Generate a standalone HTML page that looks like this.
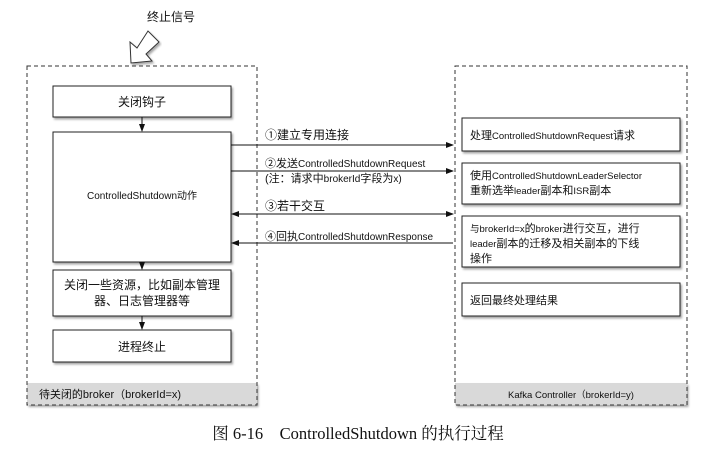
<!DOCTYPE html>
<html><head><meta charset="utf-8"><style>
body{margin:0;background:#fff;width:722px;height:444px;overflow:hidden;font-family:"Liberation Sans","Noto Sans CJK SC",sans-serif;}
svg text{font-family:"Liberation Sans","Noto Sans CJK SC",sans-serif;fill:#111;}
</style></head><body>
<svg width="722" height="444" viewBox="0 0 722 444" xmlns="http://www.w3.org/2000/svg">
<defs>
<marker id="ah" markerWidth="8" markerHeight="8" refX="7" refY="4" orient="auto" markerUnits="userSpaceOnUse"><path d="M0,1 L8,4 L0,7 Z" fill="#111"/></marker>
<marker id="ahs" markerWidth="8" markerHeight="8" refX="1" refY="4" orient="auto" markerUnits="userSpaceOnUse"><path d="M8,1 L0,4 L8,7 Z" fill="#111"/></marker>
<filter id="sh" x="-10%" y="-10%" width="120%" height="130%"><feDropShadow dx="1.5" dy="2" stdDeviation="1" flood-color="#000" flood-opacity="0.35"/></filter>
</defs>
<text x="171" y="21" font-size="12" text-anchor="middle">终止信号</text>
<polygon points="131,63 130,42 137,48 148,31 159,42 146,54 152,61" fill="#fff" stroke="#333" stroke-width="1" filter="url(#sh)"/>
<g filter="url(#sh)">
<rect x="27" y="383" width="230" height="22" fill="#d9d9d9"/>
<rect x="455" y="383" width="232" height="22" fill="#d9d9d9"/>
</g>
<rect x="27" y="66" width="230" height="339" fill="none" stroke="#333" stroke-dasharray="4,3"/>
<rect x="455" y="66" width="232" height="339" fill="none" stroke="#333" stroke-dasharray="4,3"/>
<text x="110" y="398" font-size="11" text-anchor="middle">待关闭的broker（brokerId=x)</text>
<text x="571" y="398" font-size="9.5" text-anchor="middle">Kafka Controller（brokerId=y)</text>
<g fill="#fff" stroke="#222" stroke-width="1" filter="url(#sh)">
<rect x="53" y="86" width="178" height="31"/>
<rect x="53" y="132" width="178" height="130"/>
<rect x="53" y="270" width="178" height="46"/>
<rect x="53" y="330" width="178" height="32"/>
<rect x="462" y="118" width="218" height="33"/>
<rect x="462" y="163" width="218" height="41"/>
<rect x="462" y="216" width="218" height="51"/>
<rect x="462" y="283" width="218" height="33"/>
</g>
<text x="142" y="106" font-size="12" text-anchor="middle">关闭钩子</text>
<text x="142" y="199" font-size="10" text-anchor="middle">ControlledShutdown动作</text>
<text x="142" y="289" font-size="12" text-anchor="middle">关闭一些资源，比如副本管理</text>
<text x="142" y="305" font-size="12" text-anchor="middle">器、日志管理器等</text>
<text x="142" y="351" font-size="12" text-anchor="middle">进程终止</text>
<g stroke="#111" stroke-width="1">
<line x1="142" y1="117" x2="142" y2="131" marker-end="url(#ah)"/>
<line x1="142" y1="262" x2="142" y2="269" marker-end="url(#ah)"/>
<line x1="142" y1="316" x2="142" y2="329" marker-end="url(#ah)"/>
<line x1="231" y1="145" x2="453" y2="145" marker-end="url(#ah)"/>
<line x1="231" y1="171" x2="453" y2="171" marker-end="url(#ah)"/>
<line x1="232" y1="214" x2="453" y2="214" marker-end="url(#ah)" marker-start="url(#ahs)"/>
<line x1="453" y1="243" x2="232" y2="243" marker-end="url(#ah)"/>
</g>
<text x="265" y="139" font-size="12">①建立专用连接</text>
<text x="265" y="167" font-size="11">②发送<tspan font-size="10">ControlledShutdownRequest</tspan></text>
<text x="265" y="182" font-size="11">(注：请求中<tspan font-size="10">brokerId</tspan>字段为<tspan font-size="10">x)</tspan></text>
<text x="265" y="210" font-size="12">③若干交互</text>
<text x="265" y="240" font-size="11">④回执<tspan font-size="10">ControlledShutdownResponse</tspan></text>
<text x="470" y="139" font-size="11">处理<tspan font-size="9.5">ControlledShutdownRequest</tspan>请求</text>
<text x="470" y="179" font-size="11">使用<tspan font-size="9.5">ControlledShutdownLeaderSelector</tspan></text>
<text x="470" y="194" font-size="11">重新选举<tspan font-size="9.5">leader</tspan>副本和<tspan font-size="9.5">ISR</tspan>副本</text>
<text x="470" y="232" font-size="11"><tspan font-size="9.5">与brokerId=x</tspan>的<tspan font-size="9.5">broker</tspan>进行交互，进行</text>
<text x="470" y="247" font-size="11"><tspan font-size="9.5">leader</tspan>副本的迁移及相关副本的下线</text>
<text x="470" y="262" font-size="11">操作</text>
<text x="470" y="304" font-size="11">返回最终处理结果</text>
<text x="358" y="439" font-size="16.5" text-anchor="middle" style="font-family:'Liberation Serif','Noto Serif CJK SC',serif">图 6-16　ControlledShutdown 的执行过程</text>
</svg>
</body></html>
